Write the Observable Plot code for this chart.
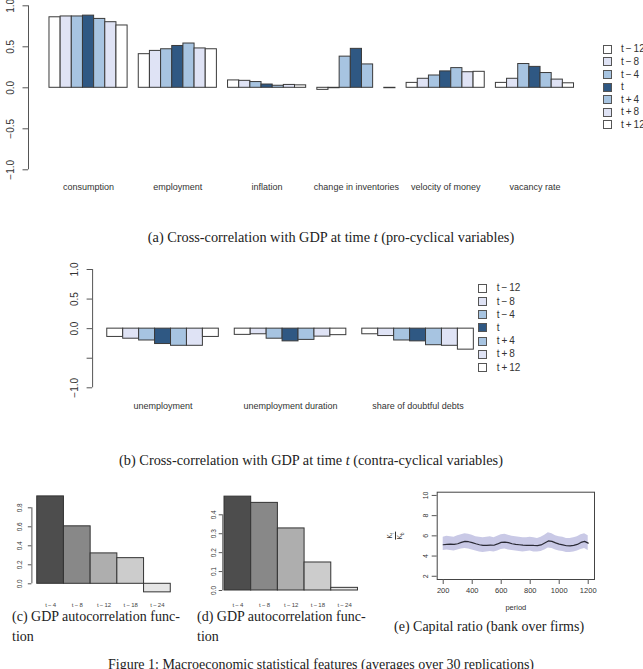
<!DOCTYPE html>
<html>
<head>
<meta charset="utf-8">
<script src="https://cdn.jsdelivr.net/npm/d3@7"></script>
<script src="https://cdn.jsdelivr.net/npm/@observablehq/plot@0.6"></script>
<style>
  body { margin: 0; background: #fff; }
  #page { position: relative; width: 643px; height: 669px; overflow: hidden; background: #fff;
          font-family: "Liberation Sans", Arial, sans-serif; color: #333; }
  .panel { position: absolute; }
  .cap { position: absolute; font-family: "Liberation Serif", "Times New Roman", serif; font-size: 14px;
         color: #222; white-space: nowrap; line-height: 20px; }
  .cap.wide { font-size: 14.3px; }
  .sw { position: absolute; width: 9px; height: 9px; box-sizing: border-box; border: 1px solid #555; }
  .lt { position: absolute; font-size: 10px; line-height: 12px; color: #333; white-space: nowrap; }
  .frac { position: absolute; font-size: 6.5px; color: #333; transform: rotate(-90deg); transform-origin: center; text-align: center; }
  .frac .num { border-bottom: 0.7px solid #333; padding: 0 1px; }
  .frac sub { font-size: 4.5px; }
</style>
</head>
<body>
<div id="page"></div>
<script>
// ---- cross-correlation with GDP at time t ----
const lags = ["t\u2009−\u200912", "t\u2009−\u20098", "t\u2009−\u20094", "t", "t\u2009+\u20094", "t\u2009+\u20098", "t\u2009+\u200912"];
const lagColors = ["#ffffff", "#dfe3f5", "#a7c4e1", "#2f5883", "#a7c4e1", "#dfe3f5", "#ffffff"];

const proVars = ["consumption", "employment", "inflation", "change in inventories", "velocity of money", "vacancy rate"];
const consumption = [0.86, 0.87, 0.87, 0.88, 0.84, 0.80, 0.76];
const employment  = [0.41, 0.45, 0.47, 0.51, 0.54, 0.48, 0.47];
const inflation   = [0.09, 0.085, 0.07, 0.04, 0.025, 0.035, 0.03];
const inventories = [-0.025, -0.005, 0.38, 0.475, 0.285, 0.0, -0.005];
const velocity    = [0.06, 0.11, 0.15, 0.20, 0.24, 0.19, 0.195];
const vacancy     = [0.06, 0.11, 0.29, 0.255, 0.18, 0.10, 0.055];
const proValues = [consumption, employment, inflation, inventories, velocity, vacancy];

const contraVars = ["unemployment", "unemployment duration", "share of doubtful debts"];
const unemployment = [-0.14, -0.17, -0.20, -0.26, -0.29, -0.29, -0.14];
const unempDuration = [-0.105, -0.095, -0.17, -0.215, -0.19, -0.135, -0.11];
const doubtfulDebts = [-0.095, -0.125, -0.20, -0.215, -0.28, -0.29, -0.355];
const contraValues = [unemployment, unempDuration, doubtfulDebts];

const corrTicks = [-1, -0.5, 0, 0.5, 1];

// ---- GDP autocorrelation functions ----
const acfLags = ["t\u2009−\u20094", "t\u2009−\u20098", "t\u2009−\u200912", "t\u2009−\u200918", "t\u2009−\u200924"];
const acfGrays = ["#4d4d4d", "#888888", "#aeaeae", "#cccccc", "#e6e6e6"];
const acfC = [0.92, 0.605, 0.32, 0.27, -0.09];
const acfD = [0.496, 0.463, 0.328, 0.148, 0.014];

// ---- capital ratio, bank over firms ----
const periods = d3.range(200, 1201, 25);
const ratioMean = [5.12, 5.15, 5.18, 5.15, 5.22, 5.35, 5.45, 5.42, 5.33, 5.22, 5.12, 5.05, 5.06, 5.08, 5.07, 5.2, 5.35, 5.38, 5.33, 5.22, 5.15,
                   5.12, 5.08, 5.05, 5.07, 5.05, 5.04, 5.1, 5.3, 5.5, 5.45, 5.3, 5.18, 5.1, 5.02, 5.0, 5.05, 5.15, 5.35, 5.45, 5.28];
const ratioHigh = [5.85, 5.95, 5.9, 5.85, 6.0, 6.1, 6.2, 6.15, 6.05, 5.9, 5.85, 5.8, 5.85, 5.9, 5.8, 5.95, 6.1, 6.15, 6.05, 5.95, 5.9,
                   5.85, 5.8, 5.8, 5.85, 5.8, 5.75, 5.85, 6.05, 6.3, 6.2, 6.0, 5.9, 5.85, 5.75, 5.75, 5.8, 5.9, 6.1, 6.2, 6.0];
const ratioLow  = [4.55, 4.6, 4.55, 4.5, 4.6, 4.7, 4.75, 4.7, 4.6, 4.5, 4.4, 4.35, 4.4, 4.45, 4.4, 4.5, 4.65, 4.7, 4.6, 4.55, 4.5,
                   4.45, 4.4, 4.45, 4.5, 4.4, 4.4, 4.45, 4.6, 4.8, 4.75, 4.6, 4.5, 4.45, 4.35, 4.35, 4.4, 4.5, 4.65, 4.75, 4.55];
const periodTicks = [200, 400, 600, 800, 1000, 1200];
const ratioTicks = [2, 4, 6, 8, 10];

const page = document.getElementById("page");
const fmt1 = d => (d < 0 ? "−" : "") + Math.abs(d).toFixed(1);
const baseStyle = {fontFamily: "Liberation Sans, Arial, sans-serif", color: "#333", background: "transparent", overflow: "visible"};

function place(node, left, top, width) {
  const div = document.createElement("div");
  div.className = "panel";
  div.style.left = left + "px";
  div.style.top = top + "px";
  if (width) div.style.width = width + "px";
  div.appendChild(node);
  page.appendChild(div);
  return div;
}

function rowsOf(vars, values) {
  return vars.flatMap((v, g) => values[g].map((value, j) => ({variable: v, g, j, lag: lags[j], value})));
}

// grouped bars: seven lag bars per variable, one empty slot between groups
function groupedBars(vars, values, o) {
  return Plot.plot({
    width: o.width, height: o.height,
    marginLeft: o.ml, marginRight: o.mr, marginTop: o.mt, marginBottom: o.mb,
    x: {domain: o.xdomain, axis: null},
    y: {domain: [-1, 1]},
    color: {domain: lags, range: lagColors},
    style: baseStyle,
    marks: [
      Plot.rect(rowsOf(vars, values), {
        x1: d => 1 + 8 * d.g + d.j, x2: d => 2 + 8 * d.g + d.j,
        y1: 0, y2: "value", fill: "lag", stroke: "#3a3a3a", strokeWidth: 1
      }),
      Plot.ruleX([o.xdomain[0]], {y1: -1, y2: 1, stroke: "#555"}),
      Plot.axisY({ticks: corrTicks, tickSize: 5.5, tickPadding: o.pad, tickRotate: -90, fontSize: 10,
                  tickFormat: o.tickFormat, label: null, stroke: "#555"}),
      Plot.text(vars, {x: (d, i) => 4.5 + 8 * i, text: d => d, frameAnchor: "bottom", dy: o.labelDy, fontSize: 9, fill: "#333"})
    ]
  });
}

function legend(sqLeft, textLeft, y0, step) {
  lags.forEach((lab, i) => {
    const y = y0 + step * i;
    const sw = document.createElement("div");
    sw.className = "sw";
    sw.style.left = sqLeft + "px";
    sw.style.top = (y - 4.5) + "px";
    sw.style.background = lagColors[i];
    page.appendChild(sw);
    const t = document.createElement("div");
    t.className = "lt";
    t.style.left = textLeft + "px";
    t.style.top = (y - 6) + "px";
    t.textContent = lab;
    page.appendChild(t);
  });
}

function caption(text, left, top, opts = {}) {
  const c = document.createElement("div");
  c.className = "cap" + (opts.wide ? " wide" : "");
  c.innerHTML = text;
  c.style.top = top + "px";
  if (opts.center != null) {
    c.style.left = opts.center + "px";
    c.style.transform = "translateX(-50%)";
  } else {
    c.style.left = left + "px";
  }
  page.appendChild(c);
}

// (a) pro-cyclical variables
place(groupedBars(proVars, proValues, {
  width: 600, height: 200, ml: 28, mr: 5.5, mt: 5.3, mb: 30.7,
  xdomain: [-0.88, 49.88], pad: 9, labelDy: 20, tickFormat: fmt1
}), 0, 0, 600);
legend(603, 621, 49.3, 12.6);
caption("(a) Cross-correlation with GDP at time <i>t</i> (pro-cyclical variables)", 0, 227, {center: 331, wide: true});

// (b) contra-cyclical variables
place(groupedBars(contraVars, contraValues, {
  width: 500, height: 170, ml: 92.1, mr: 12, mt: 14, mb: 37.7,
  xdomain: [0.08, 24.92], pad: 9, labelDy: 20.7,
  tickFormat: d => d === -0.5 ? "" : fmt1(d)
}), 0, 255, 500);
legend(478.3, 496.7, 288.3, 13.2);
caption("(b) Cross-correlation with GDP at time <i>t</i> (contra-cyclical variables)", 0, 450, {center: 311, wide: true});

// (c), (d) autocorrelation bars
function acfPlot(values, o) {
  return Plot.plot({
    width: 190, height: 135,
    marginLeft: o.ml, marginRight: o.mr, marginTop: o.mt, marginBottom: o.mb,
    x: {domain: o.xdomain, axis: null},
    y: {domain: [0, o.ymax]},
    color: {domain: acfLags, range: acfGrays},
    style: baseStyle,
    marks: [
      Plot.rect(values, {x1: (d, i) => i, x2: (d, i) => i + 1, y1: 0, y2: d => d,
                         fill: (d, i) => acfLags[i], stroke: "#333", strokeWidth: 1}),
      Plot.ruleX([o.xdomain[0]], {y1: 0, y2: o.ymax, stroke: "#555"}),
      Plot.axisY({ticks: o.ticks, tickSize: 3.6, tickPadding: o.pad, tickRotate: -90, fontSize: 6.5,
                  tickFormat: d => d.toFixed(1), label: null, stroke: "#555"}),
      Plot.text(acfLags, {x: (d, i) => i + 0.5, text: d => d, frameAnchor: "bottom", dy: o.labelDy, fontSize: 6, fill: "#444"})
    ]
  });
}
place(acfPlot(acfC, {ml: 31.4, mr: 14.4, mt: 27.3, mb: 31.7, xdomain: [-0.2, 5.2], ymax: 0.8,
                     ticks: [0, 0.2, 0.4, 0.6, 0.8], pad: 6, labelDy: 22.7}), 0, 480, 190);
place(acfPlot(acfD, {ml: 22.3, mr: 27.2, mt: 34.3, mb: 25, xdomain: [-0.064, 5.2], ymax: 0.4,
                     ticks: [0, 0.1, 0.2, 0.3, 0.4], pad: 3, labelDy: 16}), 200, 480, 190);
caption("(c) GDP autocorrelation func-<br>tion", 12, 607);
caption("(d) GDP autocorrelation func-<br>tion", 197, 607);

// (e) capital ratio band with mean path
const ratioRows = periods.map((p, i) => ({period: p, mean: ratioMean[i], low: ratioLow[i], high: ratioHigh[i]}));
place(Plot.plot({
  width: 243, height: 140,
  marginLeft: 36.7, marginRight: 49, marginTop: 11.7, marginBottom: 41,
  x: {domain: [158.6, 1243.4]},
  y: {domain: [1.68, 10.32]},
  style: baseStyle,
  marks: [
    Plot.areaY(ratioRows, {x: "period", y1: "low", y2: "high", fill: "#c9c9e6"}),
    Plot.lineY(ratioRows, {x: "period", y: "mean", stroke: "#2a2a35", strokeWidth: 1.2}),
    Plot.frame({stroke: "#444"}),
    Plot.axisX({ticks: periodTicks, tickSize: 5, tickPadding: 3, fontSize: 7.5, tickFormat: d3.format("d"), label: null, stroke: "#555"}),
    Plot.axisY({ticks: ratioTicks, tickSize: 5, tickPadding: 4, tickRotate: -90, fontSize: 7, label: null, stroke: "#555"}),
    Plot.text(["period"], {text: d => d, frameAnchor: "bottom", dy: 30, fontSize: 7.5, fill: "#333"})
  ]
}), 400, 480, 243);
const frac = document.createElement("div");
frac.className = "frac";
frac.innerHTML = '<div class="num">K<sub>f</sub></div><div>K<sub>b</sub></div>';
frac.style.left = "392px";
frac.style.top = "526px";
page.appendChild(frac);
caption("(e) Capital ratio (bank over firms)", 394, 617);

// figure caption
caption("Figure 1: Macroeconomic statistical features (averages over 30 replications)", 0, 655, {center: 321});
</script>
</body>
</html>
